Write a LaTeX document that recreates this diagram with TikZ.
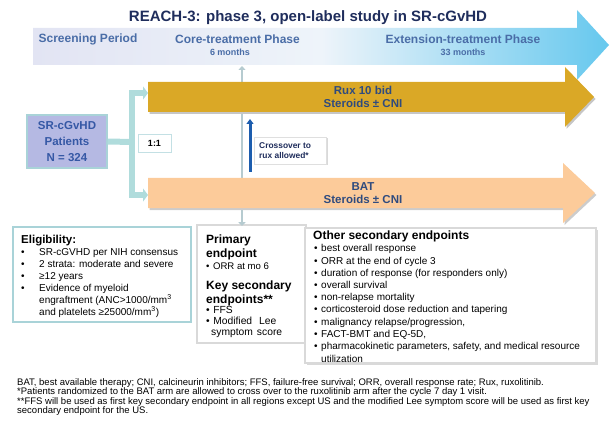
\documentclass[tikz,border=0pt]{standalone}
\usepackage{fontspec}
\setmainfont{Liberation Sans}
\usetikzlibrary{arrows.meta}
\newcommand\fsz[2]{\fontsize{#1}{#2}\selectfont}
\definecolor{navy}{HTML}{1F2D5C}
\definecolor{phase}{HTML}{4A6DA7}
\definecolor{gold}{HTML}{DAA826}
\definecolor{peach}{HTML}{FCCB9A}
\definecolor{armtext}{HTML}{2F4B7E}
\definecolor{lav}{HTML}{B5B9E3}
\definecolor{pattxt}{HTML}{3558A5}
\definecolor{tealc}{HTML}{B0DCDC}
\definecolor{boxborder}{HTML}{A9D3D8}
\definecolor{vlinec}{HTML}{B6CBD0}
\definecolor{xblue}{HTML}{1C5DAE}
\definecolor{bandL}{HTML}{E2E4F3}
\definecolor{bandM}{HTML}{EEF4FA}
\definecolor{bandR}{HTML}{66C8EE}
\begin{document}
\begin{tikzpicture}[x=1pt,y=-1pt,
  titlest/.style={font=\fsz{15}{18}\bfseries, text=navy, inner sep=0pt},
  phaselbl/.style={font=\fsz{12}{14}\bfseries, text=phase, inner sep=0pt},
  phasesub/.style={font=\fsz{9}{11}\bfseries, text=phase, inner sep=0pt},
  armtxt/.style={font=\fsz{11.5}{13.5}\bfseries, text=armtext, align=center, inner sep=0pt},
  patbox/.style={fill=lav, draw=boxborder, line width=1.5pt, minimum width=80pt, minimum height=53pt, align=center, font=\fsz{11.5}{16}\bfseries, text=pattxt, inner sep=0pt},
  conn/.style={draw=tealc, line width=6pt, line join=miter},
  conntip/.style={-{Triangle[length=5pt,width=13pt]}},
  vl/.style={draw=vlinec, line width=2.5pt},
  boxst/.style={draw=boxborder, fill=white, line width=1.2pt, inner sep=0pt},
  shadowst/.style={fill=gray!30, draw=none, inner sep=0pt},
  hd/.style={anchor=base west, inner sep=0pt, font=\fsz{12}{14}\bfseries},
  txt/.style={anchor=base west, inner sep=0pt, font=\fsz{10}{12}},
  ptxt/.style={anchor=base west, inner sep=0pt, font=\fsz{10.3}{11}},
  fn/.style={anchor=base west, inner sep=0pt, font=\fsz{9.5}{9}}
]
\useasboundingbox (0,0) rectangle (610,422);
% timeline band
\shade[left color=bandL, right color=bandR, middle color=bandM]
  (33,28) -- (577,28) -- (577,10) -- (609,45) -- (577,80) -- (577,65) -- (33,65) -- cycle;
\node[titlest] (title) at (308,18) {REACH-3: phase 3, open-label study in SR-cGvHD};
\node[phaselbl] (scr) at (88,39) {Screening Period};
\node[phaselbl] (core) at (237.5,39) {Core-treatment Phase};
\node[phasesub] (core6) at (230,52) {6 months};
\node[phaselbl] (ext) at (463,39) {Extension-treatment Phase};
\node[phasesub] (ext33) at (463,52) {33 months};
% vertical phase line
\coordinate (vtop) at (242,66);
\coordinate (vbot) at (242,226);
\draw[vl, {Triangle[length=4pt,width=7pt]}-{Triangle[length=4pt,width=7pt]}] (vtop) -- (vbot);
% gold arrow
\begin{scope}[shift={(1.5,2)}]
\fill[gray!45] (148,82) -- (565,82) -- (565,67) -- (594,97) -- (565,127) -- (565,112) -- (148,112) -- cycle;
\end{scope}
\fill[gold] (148,82) -- (565,82) -- (565,67) -- (594,97) -- (565,127) -- (565,112) -- (148,112) -- cycle;
\node[armtxt] (rux) at (363,97) {Rux 10 bid\\Steroids ± CNI};
% BAT arrow
\begin{scope}[shift={(1.5,2)}]
\fill[gray!40] (148,178) -- (563,178) -- (563,163) -- (595,193) -- (563,223) -- (563,208) -- (148,208) -- cycle;
\end{scope}
\fill[peach] (148,178) -- (563,178) -- (563,163) -- (595,193) -- (563,223) -- (563,208) -- (148,208) -- cycle;
\node[armtxt, font=\fsz{11.5}{13}\bfseries] (bat) at (363,193.5) {BAT\\Steroids ± CNI};
% patients and randomisation
\node[patbox] (pat) at (67,141.5) {SR-cGvHD\\Patients\\N = 324};
\coordinate (j) at (132,142);
\coordinate (goldin) at (148,93);
\coordinate (batin) at (148,195);
\draw[conn] (pat.east) -- (j);
\draw[conn, conntip] (j) |- (goldin);
\draw[conn, conntip] (j) |- (batin);
\node[boxst, draw=boxborder!70, line width=0.8pt, minimum width=33pt, minimum height=18pt, font=\fsz{9}{10}\bfseries] (ratio) at (154.5,143) {1:1};
% crossover
\coordinate (xs) at (250,172);
\coordinate (xe) at (250,119);
\draw[xblue, line width=3pt, -{Triangle[length=5pt,width=7pt]}] (xs) -- (xe);
\node[shadowst, minimum width=72pt, minimum height=27pt] (xshadow) at (291.5,152) {};
\node[boxst, draw=gray!25, line width=0.6pt, minimum width=72pt, minimum height=27pt] (xbox) at (290,150.5) {};
\node[anchor=west, inner sep=0pt, align=left, font=\fsz{8.4}{10}\bfseries, text=navy] (xtxt) at (259,151) {Crossover to\\rux allowed*};
% eligibility box
\node[boxst, minimum width=178pt, minimum height=95pt] (elig) at (102,274.5) {};
\node[hd, font=\fsz{11.5}{14}\bfseries] (eh) at (21,243) {Eligibility:};
\foreach \yy/\tt [count=\i] in {255.5/SR-cGVHD per NIH consensus, 267.5/2 strata: moderate and severe, 279.5/≥12 years, 291.5/Evidence of myeloid}{
  \node[txt] (eb\i) at (21,\yy) {•};
  \node[txt] (et\i) at (39,\yy) {\tt};
}
\node[txt] (et5) at (39,303.5) {engraftment (ANC>1000/mm\textsuperscript{3}};
\node[txt] (et6) at (39,315.5) {and platelets ≥25000/mm\textsuperscript{3})};
% primary endpoint box
\node[boxst, draw=gray!30, minimum width=109pt, minimum height=118pt] (prim) at (251.5,284) {};
\draw[vl, -{Triangle[length=4pt,width=7pt]}] (242,218) -- (vbot);
\node[hd] (ph1) at (206,243) {Primary};
\node[hd] (ph2) at (206,257) {endpoint};
\node[ptxt, font=\fsz{9.6}{11}] (pt1) at (206,269.3) {•\hspace{3.5pt}ORR at mo 6};
\node[hd] (kh1) at (206,289.3) {Key secondary};
\node[hd] (kh2) at (206,303) {endpoints**};
\node[ptxt] (kt1) at (206,313.5) {•\hspace{3.5pt}FFS};
\node[ptxt] (kt2) at (206,324.5) {•\hspace{3.5pt}Modified\hspace{7pt}Lee};
\node[ptxt] (kt3) at (211,335.5) {symptom\hspace{4pt}score};
% other secondary endpoints box
\node[shadowst, minimum width=291pt, minimum height=135pt] (oshadow) at (452,297.5) {};
\node[boxst, draw=gray!30, minimum width=291pt, minimum height=135pt] (other) at (450.5,295.5) {};
\node[hd] (oh) at (313,239.3) {Other secondary endpoints};
\begin{scope}
\clip (305.6,228.6) rectangle (595.4,362.4);
\foreach \yy/\tt [count=\i] in {251.8/best overall response, 264.2/ORR at the end of cycle 3, 276.2/duration of response (for responders only), 288.5/overall survival, 300.8/non-relapse mortality, 312.8/corticosteroid dose reduction and tapering, 325.2/{malignancy relapse/progression,}, 337.5/{FACT-BMT and EQ-5D,}, 349.5/{pharmacokinetic parameters, safety, and medical resource}}{
  \node[txt] (ob\i) at (314,\yy) {•};
  \node[txt] (ot\i) at (321,\yy) {\tt};
}
\node[txt] (ot10) at (321,362) {utilization};
\end{scope}
\draw[draw=gray!30, line width=1.2pt] (other.north west) rectangle (other.south east);
% footnotes
\node[fn] (f1) at (17,385.3) {BAT, best available therapy; CNI, calcineurin inhibitors; FFS, failure-free survival; ORR, overall response rate; Rux, ruxolitinib.};
\node[fn] (f2) at (17,394.6) {*Patients randomized to the BAT arm are allowed to cross over to the ruxolitinib arm after the cycle 7 day 1 visit.};
\node[fn] (f3) at (17,404) {**FFS will be used as first key secondary endpoint in all regions except US and the modified Lee symptom score will be used as first key};
\node[fn] (f4) at (17,413.2) {secondary endpoint for the US.};
\end{tikzpicture}
\end{document}
